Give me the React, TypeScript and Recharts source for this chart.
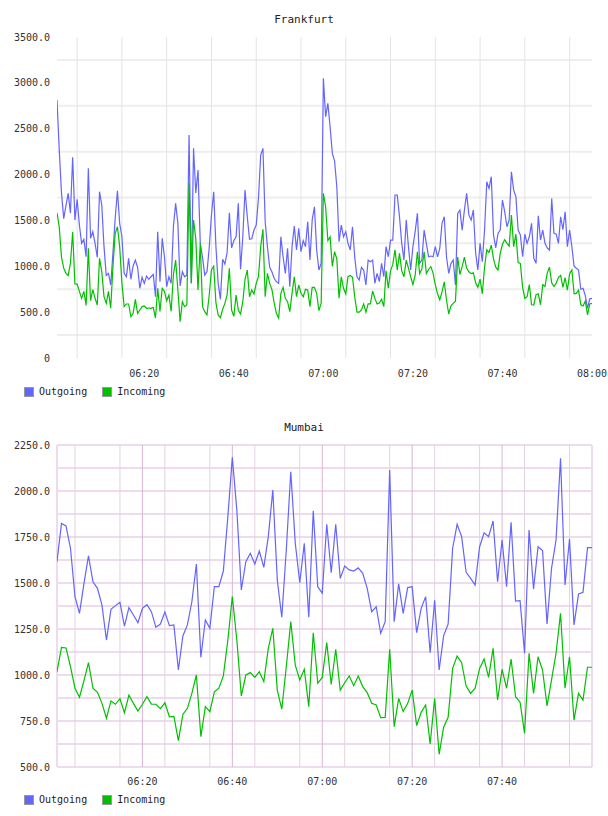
import { LineChart, Line, XAxis, YAxis, CartesianGrid } from 'recharts';

// Frankfurt traffic, 30 s samples from 06:00:30 to 08:00
const frankfurtOutgoing = [
  2812, 2270, 1800, 1520, 1660, 1795, 1580, 2188, 1504, 1730,
  1450, 1250, 1294, 1104, 2068, 1305, 1377, 1250, 1098, 1813,
  1668, 1214, 900, 923, 796, 1150, 1523, 1824, 1468, 1322,
  923, 886, 1087, 858, 1003, 1068, 989, 760, 880, 814,
  894, 858, 886, 912, 668, 1377, 832, 1305, 1104, 777,
  886, 814, 1431, 1686, 1468, 785, 941, 886, 905, 2431,
  814, 2286, 1800, 2049, 1250, 1100, 905, 941, 1200, 1560,
  1813, 1214, 814, 640, 1076, 1025, 1150, 1584, 1200, 1279,
  1322, 1686, 967, 1322, 1831, 1540, 1294, 1300, 1395, 1450,
  1741, 2213, 2286, 1486, 1214, 989, 941, 870, 832, 814,
  1322, 1104, 923, 1196, 777, 1214, 1439, 1177, 1414, 1159,
  1279, 1214, 1486, 1068, 1504, 1649, 1177, 959, 1032, 3049,
  2631, 2776, 2521, 2231, 2150, 1867, 1268, 1450, 1322, 1377,
  1250, 1177, 1431, 1100, 886, 850, 989, 959, 796, 1068,
  1050, 1068, 814, 923, 832, 1032, 886, 1214, 1104, 1286,
  1286, 1777, 1777, 1540, 1250, 1068, 1504, 1214, 959, 1214,
  1377, 1577, 1032, 1068, 1395, 1250, 1104, 1112, 1104, 1214,
  1104, 1196, 1468, 1540, 1104, 923, 1032, 1068, 796, 1577,
  1613, 1395, 1613, 1795, 1560, 1504, 1613, 1150, 959, 1250,
  1050, 1395, 1922, 1850, 1977, 1341, 1200, 1359, 1395, 1722,
  1595, 1431, 1504, 2031, 1831, 1759, 1395, 1341, 1104, 1350,
  1250, 1322, 1468, 1087, 1032, 1550, 1286, 1395, 1250, 1200,
  1177, 1740, 1359, 1350, 1250, 1540, 1400, 1595, 1214, 1395,
  1214, 1000, 978, 959, 750, 760, 680, 542, 645, 651,
];

const frankfurtIncoming = [
  1584, 1430, 1100, 980, 923, 900, 1032, 1373, 807, 805,
  727, 650, 727, 574, 1196, 625, 745, 651, 578, 1087,
  941, 668, 596, 727, 542, 1000, 1359, 1431, 1214, 814,
  560, 589, 589, 450, 487, 640, 487, 523, 560, 567,
  542, 545, 542, 553, 436, 760, 509, 760, 727, 625,
  687, 509, 908, 1068, 742, 396, 614, 560, 578, 1904,
  814, 1504, 1300, 742, 1250, 560, 505, 470, 687, 959,
  1000, 600, 469, 440, 531, 596, 687, 978, 523, 454,
  687, 523, 480, 614, 858, 959, 668, 742, 698, 814,
  886, 1214, 1403, 668, 923, 814, 749, 603, 487, 436,
  705, 770, 651, 614, 505, 705, 886, 668, 796, 705,
  668, 749, 742, 560, 770, 770, 705, 516, 596, 1795,
  1649, 1280, 1320, 1000, 1159, 1080, 651, 886, 760, 700,
  886, 900, 880, 668, 500, 500, 523, 590, 500, 590,
  590, 730, 650, 590, 600, 640, 560, 950, 760, 950,
  1020, 1180, 959, 1140, 950, 886, 1068, 980, 886, 800,
  900, 1159, 920, 970, 1159, 920, 965, 996, 925, 800,
  700, 635, 720, 830, 632, 480, 570, 596, 620, 1100,
  910, 1000, 1100, 980, 940, 920, 930, 820, 770, 860,
  700, 990, 1180, 1150, 1230, 1080, 990, 960, 1140, 1240,
  1290, 1250, 1220, 1559, 1214, 1350, 1040, 1032, 770, 650,
  668, 800, 580, 578, 690, 700, 580, 800, 780, 925,
  990, 820, 780, 814, 880, 900, 770, 875, 740, 920,
  960, 700, 705, 740, 580, 567, 620, 470, 589, 596,
];

// Mumbai traffic, 1 min samples from 06:01 to 08:00
const mumbaiOutgoing = [
  1616, 1824, 1810, 1689, 1426, 1335, 1498, 1647, 1507, 1471,
  1380, 1190, 1357, 1377, 1395, 1266, 1366, 1326, 1284, 1362,
  1382, 1344, 1259, 1277, 1342, 1268, 1272, 1027, 1212, 1272,
  1398, 1603, 1096, 1299, 1254, 1480, 1480, 1565, 1860, 2183,
  1897, 1462, 1616, 1661, 1603, 1674, 1585, 1752, 2005, 1516,
  1314, 1679, 2105, 1716, 1502, 1716, 1314, 1893, 1480, 1444,
  1819, 1556, 1819, 1525, 1592, 1571, 1565, 1582, 1553, 1471,
  1344, 1371, 1227, 1290, 2114, 1290, 1495, 1335, 1475, 1480,
  1230, 1362, 1426, 1121, 1406, 1027, 1214, 1277, 1689, 1819,
  1752, 1558, 1525, 1489, 1697, 1773, 1752, 1837, 1507, 1734,
  1480, 1830, 1402, 1404, 1118, 1788, 1467, 1697, 1676, 1277,
  1580, 1734, 2178, 1489, 1739, 1272, 1440, 1449, 1692, 1692,
];

const mumbaiIncoming = [
  1018, 1150, 1147, 1045, 928, 879, 969, 1067, 928, 906,
  846, 765, 859, 841, 871, 795, 891, 846, 804, 841,
  882, 842, 841, 817, 849, 773, 775, 643, 786, 819,
  900, 1000, 665, 828, 801, 909, 928, 995, 1190, 1426,
  1190, 886, 1000, 1013, 987, 1018, 964, 1145, 1254, 918,
  814, 1045, 1290, 1054, 973, 1031, 828, 1230, 955, 987,
  1176, 949, 1140, 918, 958, 995, 942, 995, 937, 904,
  846, 837, 768, 770, 1140, 719, 873, 801, 846, 918,
  725, 797, 837, 625, 873, 569, 716, 770, 1036, 1103,
  1067, 940, 900, 928, 1036, 1087, 987, 1145, 864, 1031,
  928, 1087, 882, 852, 683, 1118, 900, 1099, 1027, 832,
  973, 1118, 1335, 928, 1099, 755, 900, 864, 1042, 1042,
];

// minutes after 06:00
const frankfurtTimeTicks = [20, 40, 60, 80, 100, 120];
const mumbaiTimeTicks = [20, 40, 60, 80, 100];
const frankfurtValueTicks = [0, 500, 1000, 1500, 2000, 2500, 3000, 3500];
const mumbaiValueTicks = [500, 750, 1000, 1250, 1500, 1750, 2000, 2250];

const OUT_COLOR = '#6464ff';
const IN_COLOR = '#00c000';
const FONT = '"DejaVu Sans Mono", monospace';

const frankfurtData = frankfurtOutgoing.map((v, i) => ({
  t: 0.5 + i * 0.5,
  outgoing: v,
  incoming: frankfurtIncoming[i],
}));

const mumbaiData = mumbaiOutgoing.map((v, i) => ({
  t: 1 + i,
  outgoing: v,
  incoming: mumbaiIncoming[i],
}));

const range = (from: number, to: number, step: number) => {
  const out: number[] = [];
  for (let v = from; v <= to + 1e-9; v += step) out.push(v);
  return out;
};

const fmtTime = (m: number) => {
  const h = 6 + Math.floor(m / 60);
  const mm = Math.round(m % 60);
  return `${String(h).padStart(2, '0')}:${String(mm).padStart(2, '0')}`;
};

const fmtValue = (v: number) => (v === 0 ? '0' : v.toFixed(1));

const tickStyle = { fontFamily: FONT, fontSize: 10, fill: '#333' };

const LegendRow = ({ top }: { top: number }) => (
  <div
    style={{
      position: 'absolute',
      left: 24,
      top,
      display: 'flex',
      alignItems: 'center',
      fontFamily: FONT,
      fontSize: 10,
      color: '#222',
    }}
  >
    {[
      { name: 'Outgoing', color: OUT_COLOR },
      { name: 'Incoming', color: IN_COLOR },
    ].map((item) => (
      <div key={item.name} style={{ display: 'flex', alignItems: 'center', marginRight: 15 }}>
        <span
          style={{
            display: 'inline-block',
            width: 8,
            height: 8,
            background: item.color,
            border: '1px solid #999',
            marginRight: 5,
          }}
        />
        <span>{item.name}</span>
      </div>
    ))}
  </div>
);

const Title = ({ text, top }: { text: string; top: number }) => (
  <div
    style={{
      position: 'absolute',
      left: 0,
      top,
      width: 608,
      textAlign: 'center',
      fontFamily: FONT,
      fontSize: 11,
      color: '#222',
    }}
  >
    {text}
  </div>
);

const App = () => {
  return (
    <div style={{ position: 'absolute', left: 0, top: 0, width: 608, height: 816, background: '#fff' }}>
      <Title text="Frankfurt" top={13} />
      <div style={{ position: 'absolute', left: 0, top: 0 }}>
        <LineChart width={608} height={408} data={frankfurtData} margin={{ top: 37, right: 16, left: 0, bottom: 26 }}>
          <CartesianGrid
            vertical={false}
            horizontalValues={range(250, 3250, 500)}
            stroke="#eeeeee"
            strokeWidth={2}
          />
          <CartesianGrid horizontal={false} verticalValues={range(5, 115, 5)} stroke="#e4e4e4" />
          <XAxis
            dataKey="t"
            type="number"
            domain={[0.5, 120]}
            ticks={frankfurtTimeTicks}
            tickFormatter={fmtTime}
            axisLine={false}
            tickLine={false}
            tickSize={0}
            tickMargin={12}
            height={24}
            tick={tickStyle}
            allowDataOverflow
          />
          <YAxis
            type="number"
            domain={[0, 3500]}
            ticks={frankfurtValueTicks}
            tickFormatter={fmtValue}
            axisLine={false}
            tickLine={false}
            tickSize={0}
            tickMargin={7}
            width={57}
            tick={tickStyle}
            interval={0}
          />
          <Line type="linear" dataKey="outgoing" stroke={OUT_COLOR} strokeWidth={1.2} dot={false} isAnimationActive={false} />
          <Line type="linear" dataKey="incoming" stroke={IN_COLOR} strokeWidth={1.2} dot={false} isAnimationActive={false} />
        </LineChart>
      </div>
      <LegendRow top={386} />

      <Title text="Mumbai" top={421} />
      <div style={{ position: 'absolute', left: 0, top: 408 }}>
        <LineChart width={608} height={408} data={mumbaiData} margin={{ top: 37, right: 16, left: 0, bottom: 25 }}>
          {/* pink frame and horizontal rules */}
          <CartesianGrid
            horizontalValues={range(500, 2250, 125)}
            verticalValues={[1, 120]}
            stroke="#eedcee"
            strokeWidth={2}
          />
          {/* 5 minute rules */}
          <CartesianGrid horizontal={false} verticalValues={range(5, 115, 5)} stroke="#e2d2e2" />
          {/* 20 minute rules */}
          <CartesianGrid horizontal={false} verticalValues={mumbaiTimeTicks} stroke="#d8b4d8" />
          <XAxis
            dataKey="t"
            type="number"
            domain={[1, 120]}
            ticks={mumbaiTimeTicks}
            tickFormatter={fmtTime}
            axisLine={false}
            tickLine={false}
            tickSize={0}
            tickMargin={11}
            height={24}
            tick={tickStyle}
            allowDataOverflow
          />
          <YAxis
            type="number"
            domain={[500, 2250]}
            ticks={mumbaiValueTicks}
            tickFormatter={fmtValue}
            axisLine={false}
            tickLine={false}
            tickSize={0}
            tickMargin={7}
            width={57}
            tick={tickStyle}
            interval={0}
          />
          <Line type="linear" dataKey="outgoing" stroke={OUT_COLOR} strokeWidth={1.2} dot={false} isAnimationActive={false} />
          <Line type="linear" dataKey="incoming" stroke={IN_COLOR} strokeWidth={1.2} dot={false} isAnimationActive={false} />
        </LineChart>
      </div>
      <LegendRow top={794} />
    </div>
  );
};

export default App;
